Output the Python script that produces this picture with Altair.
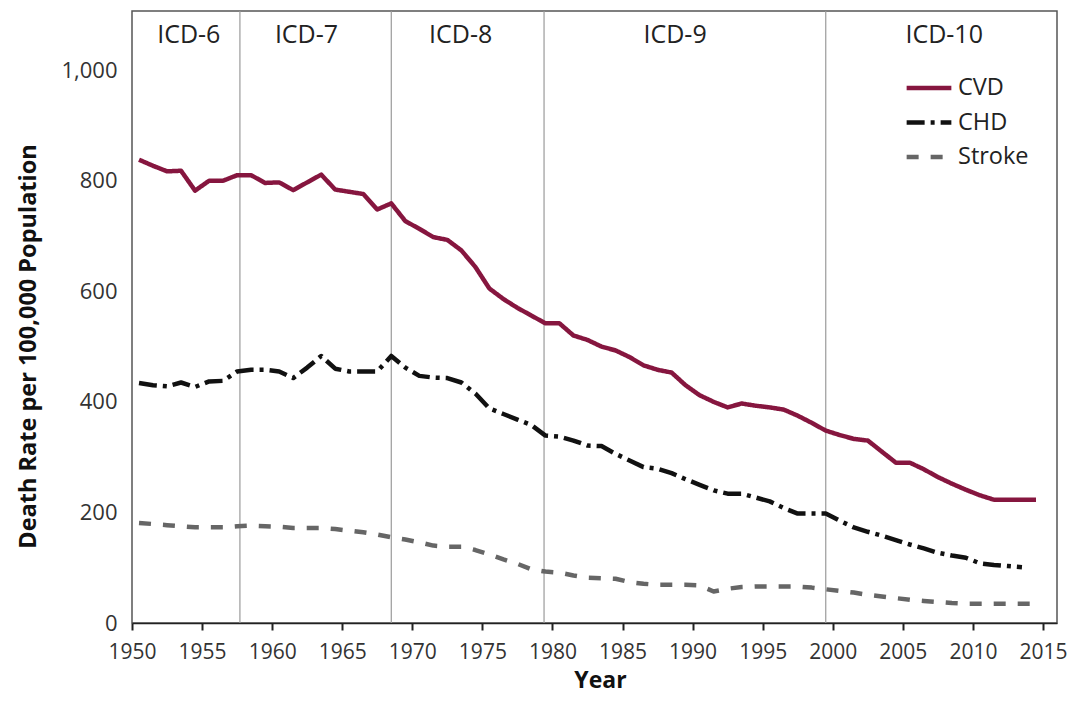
import altair as alt
import pandas as pd

# ---- data ----
cvd_years = list(range(1950, 2015))
cvd_values = [838, 827, 817, 818, 782, 800, 800, 810, 810, 796,
              797, 783, 797, 811, 784, 780, 776, 748, 759, 727,
              713, 698, 693, 674, 644, 605, 586, 570, 556, 542,
              542, 520, 512, 500, 493, 481, 466, 458, 453, 430,
              412, 400, 390, 397, 393, 390, 386, 375, 362, 348,
              340, 333, 330, 310, 290, 290, 278, 264, 252, 241,
              231, 223, 223, 223, 223]

chd_years = list(range(1950, 2014))
chd_values = [434, 430, 428, 435, 427, 437, 438, 455, 458, 458,
              455, 443, 462, 483, 460, 455, 455, 455, 483, 462,
              447, 444, 443, 435, 415, 388, 378, 368, 358, 339,
              337, 330, 321, 320, 306, 294, 282, 279, 271, 260,
              250, 240, 234, 234, 227, 220, 208, 198, 198, 198,
              185, 173, 165, 158, 150, 142, 135, 127, 122, 118,
              108, 105, 103, 101]

stroke_years = list(range(1950, 2015))
stroke_values = [181, 179, 177, 175, 173, 173, 173, 175, 176, 175,
                 174, 172, 172, 172, 170, 167, 164, 160, 155, 151,
                 146, 140, 138, 138, 132, 124, 115, 107, 97, 93,
                 91, 86, 82, 81, 80, 74, 71, 69, 69, 69,
                 68, 57, 62, 65, 66, 66, 66, 66, 64, 61,
                 58, 55, 51, 48, 45, 42, 40, 38, 36, 35,
                 35, 35, 35, 35, 35]

series_names = ["CVD", "CHD", "Stroke"]
series_colors = ["#86163f", "#111111", "#666666"]
series_dashes = [[1, 0], [18, 6, 4, 6], [12, 12]]

icd_labels = ["ICD-6", "ICD-7", "ICD-8", "ICD-9", "ICD-10"]
icd_label_year = [1954.05, 1962.45, 1973.45, 1988.75, 2007.95]
icd_label_value = [1063, 1063, 1063, 1063, 1063]
icd_bounds = [1957.7, 1968.5, 1979.4, 1999.5]

x_ticks = list(range(1950, 2016, 5))
y_ticks = [0, 200, 400, 600, 800, 1000]

FONT = "Open Sans"

# ---- tables ----
rows = []
for name, ys, vs in [("CVD", cvd_years, cvd_values),
                     ("CHD", chd_years, chd_values),
                     ("Stroke", stroke_years, stroke_values)]:
    for y, v in zip(ys, vs):
        rows.append({"year": y, "value": v, "series": name})
lines_df = pd.DataFrame(rows)
bounds_df = pd.DataFrame({"year": icd_bounds})
labels_df = pd.DataFrame({"label": icd_labels, "year": icd_label_year,
                          "value": icd_label_value})

x_scale = alt.Scale(domain=[1950, 2016], nice=False, zero=False)
y_scale = alt.Scale(domain=[0, 1107], nice=False, zero=True)

x_axis = alt.Axis(values=x_ticks, format="d", title="Year",
                  labelFontSize=21, labelFont=FONT, labelColor="#333333",
                  labelOverlap=False, labelFlush=False, labelBound=False,
                  labelPadding=11,
                  tickSize=7, tickWidth=2, tickColor="#222222",
                  domainColor="#222222", domainWidth=1.5, grid=False,
                  titleFont=FONT, titleFontSize=23, titleFontWeight="bold",
                  titleColor="#111111", titleX=468, titleY=57,
                  titleAlign="center", titleBaseline="middle")
y_axis = alt.Axis(values=y_ticks, format=",d", title="Death Rate per 100,000 Population",
                  labelFontSize=22, labelFont=FONT, labelColor="#333333",
                  labelOverlap=False,
                  ticks=False, tickSize=0, labelPadding=15, domain=False, grid=False,
                  titleFont=FONT, titleFontSize=23.5, titleFontWeight="bold",
                  titleColor="#111111", titleAngle=270, titleX=-104, titleY=335,
                  titleAlign="center", titleBaseline="middle")

rules = alt.Chart(bounds_df).mark_rule(color="#9a9a9a", strokeWidth=1.2).encode(
    x=alt.X("year:Q", scale=x_scale, axis=x_axis)
)

texts = alt.Chart(labels_df).mark_text(
    font=FONT, fontSize=25, color="#222222", baseline="middle", align="center"
).encode(
    x=alt.X("year:Q", scale=x_scale),
    y=alt.Y("value:Q", scale=y_scale, axis=y_axis),
    text="label:N",
)

lines = alt.Chart(lines_df).transform_calculate(
    pos="datum.year + 0.5"
).mark_line(strokeWidth=4.5, strokeCap="butt", strokeJoin="round").encode(
    x=alt.X("pos:Q", scale=x_scale),
    y=alt.Y("value:Q", scale=y_scale),
    color=alt.Color("series:N", scale=alt.Scale(domain=series_names, range=series_colors),
                    legend=alt.Legend(title=None)),
    strokeDash=alt.StrokeDash("series:N",
                              scale=alt.Scale(domain=series_names, range=series_dashes),
                              legend=alt.Legend(title=None)),
)

chart = alt.layer(rules, lines, texts).properties(
    width=925, height=612,
    autosize=alt.AutoSizeParams(type="none"),
    padding={"left": 124, "top": 3, "right": 10, "bottom": 70},
).configure_view(
    stroke="#555555", strokeWidth=1.5
).configure_legend(
    orient="none", legendX=772, legendY=62, padding=0,
    symbolType="stroke", symbolSize=2000, symbolStrokeWidth=4.5,
    labelFont=FONT, labelFontSize=23.5, labelColor="#222222",
    labelOffset=4, clipHeight=30, rowPadding=4.5
)

chart.save("out.html", embed_options={"renderer": "svg", "actions": False})
